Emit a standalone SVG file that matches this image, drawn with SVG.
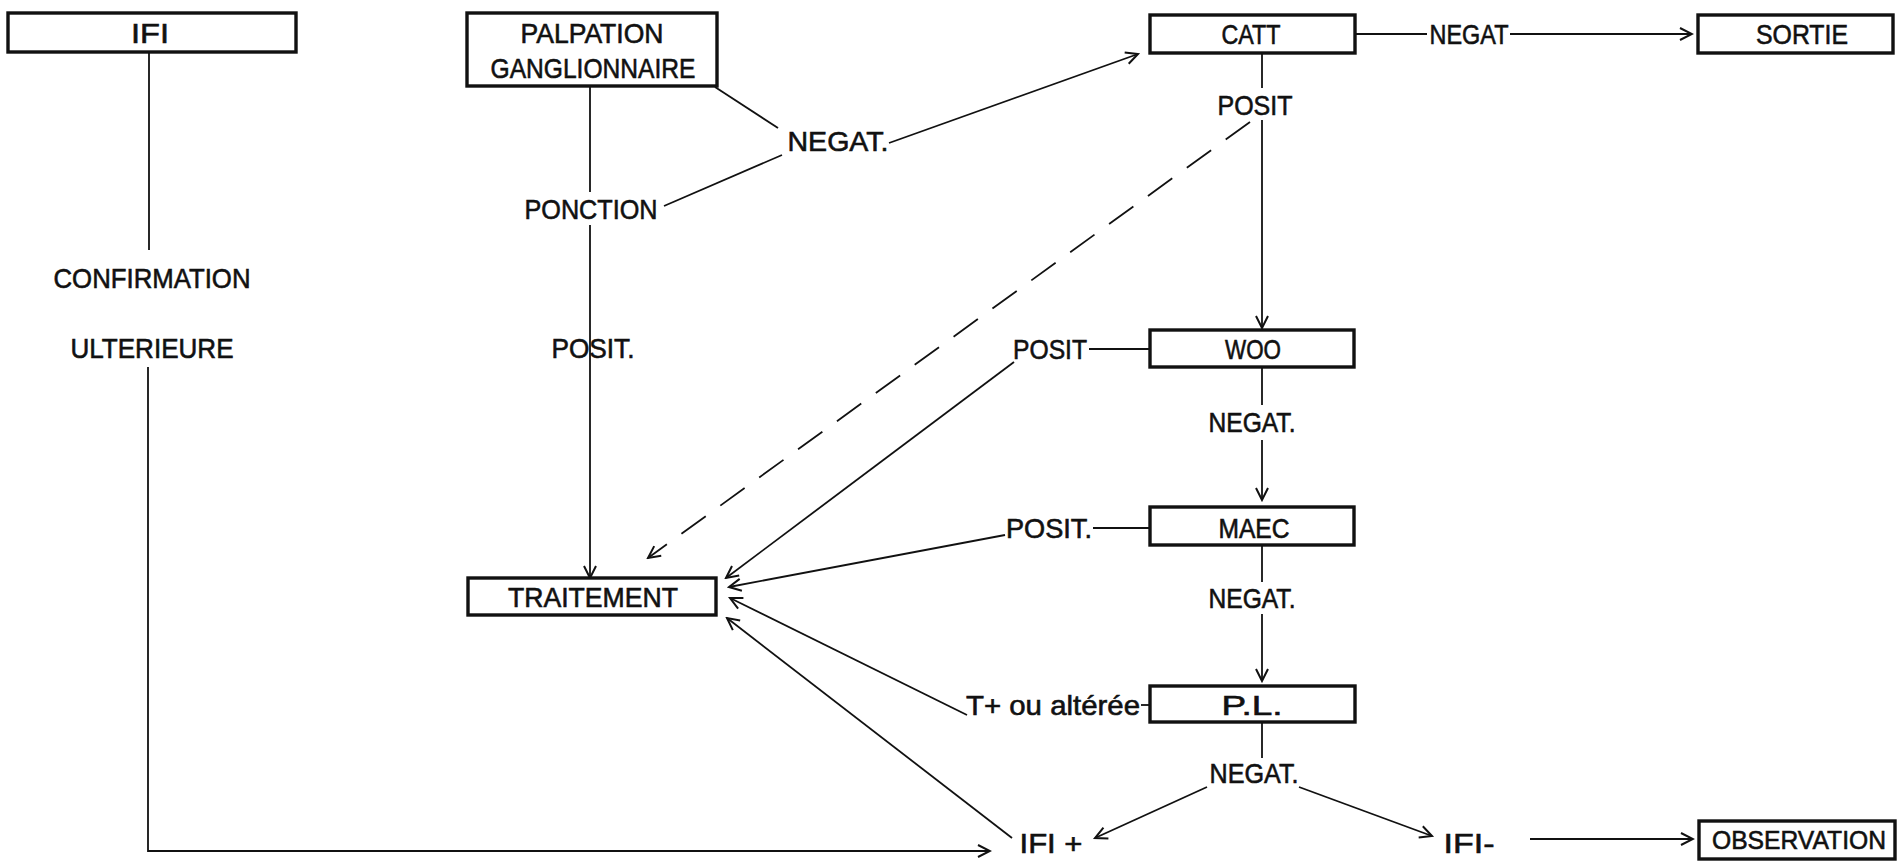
<svg xmlns="http://www.w3.org/2000/svg" width="1901" height="861" viewBox="0 0 1901 861">
<style>
.bg{fill:#fff}
.box{fill:#fff;stroke:#111;stroke-width:3.4}
.t{font-family:"Liberation Sans",Arial,Helvetica,sans-serif;font-size:28px;fill:#111;stroke:#111;stroke-width:0.6;text-anchor:middle}
.c{fill:none;stroke:#111;stroke-width:1.8}
.a{marker-end:url(#arr)}
.d{stroke-dasharray:30 18}
</style>
<defs>
<marker id="arr" markerUnits="userSpaceOnUse" markerWidth="16" markerHeight="16" viewBox="0 0 16 16" refX="14" refY="8" orient="auto">
<path d="M2,2 L14,8 L2,14" fill="none" stroke="#111" stroke-width="2"/>
</marker>
</defs>
<rect class="bg" x="0" y="0" width="1901" height="861"/>

<g id="connectors">
<line class="c" x1="149" y1="52" x2="149" y2="250"/>
<polyline class="c a" points="148,367 148,851 990,851"/>
<line class="c" x1="590" y1="86" x2="590" y2="192"/>
<line class="c" x1="590" y1="225" x2="590" y2="578" marker-end="url(#arr)"/>
<line class="c" x1="715" y1="87" x2="778" y2="128"/>
<line class="c" x1="664" y1="206" x2="782" y2="155"/>
<line class="c a" x1="889" y1="143" x2="1138" y2="54"/>
<line class="c" x1="1262" y1="53" x2="1262" y2="88"/>
<line class="c a" x1="1262" y1="120" x2="1262" y2="328"/>
<line class="c a d" x1="1250" y1="122" x2="648" y2="558"/>
<line class="c" x1="1355" y1="34" x2="1427" y2="34"/>
<line class="c a" x1="1510" y1="34" x2="1692" y2="34"/>
<line class="c" x1="1089" y1="349" x2="1150" y2="349"/>
<line class="c a" x1="1014" y1="362" x2="726" y2="578"/>
<line class="c" x1="1262" y1="367" x2="1262" y2="405"/>
<line class="c a" x1="1262" y1="440" x2="1262" y2="500"/>
<line class="c" x1="1093" y1="528" x2="1150" y2="528"/>
<line class="c a" x1="1005" y1="535" x2="729" y2="587" stroke-width="2.4"/>
<line class="c" x1="1262" y1="545" x2="1262" y2="582"/>
<line class="c a" x1="1262" y1="614" x2="1262" y2="681"/>
<line class="c" x1="1141" y1="705" x2="1150" y2="705"/>
<line class="c a" x1="967" y1="715" x2="730" y2="598" stroke-width="2.2"/>
<line class="c" x1="1262" y1="722" x2="1262" y2="758"/>
<line class="c a" x1="1207" y1="787" x2="1095" y2="838"/>
<line class="c a" x1="1299" y1="787" x2="1432" y2="836"/>
<line class="c a" x1="1530" y1="839" x2="1693" y2="839"/>
<line class="c a" x1="1012" y1="838" x2="727" y2="618"/>
</g>

<g id="n-ifi">
<rect class="box" x="8" y="13" width="288" height="39"/>
<text class="t" x="150" y="43" textLength="38" lengthAdjust="spacingAndGlyphs">IFI</text>
</g>
<g id="n-confirmation">
<text class="t" x="152" y="288" textLength="197" lengthAdjust="spacingAndGlyphs">CONFIRMATION</text>
<text class="t" x="152" y="358" textLength="163" lengthAdjust="spacingAndGlyphs">ULTERIEURE</text>
</g>
<g id="n-palpation">
<rect class="box" x="467" y="13" width="250" height="73"/>
<text class="t" x="592" y="43" textLength="143" lengthAdjust="spacingAndGlyphs">PALPATION</text>
<text class="t" x="593" y="78" textLength="205" lengthAdjust="spacingAndGlyphs">GANGLIONNAIRE</text>
</g>
<g id="l-ponction"><text class="t" x="591" y="219" textLength="133" lengthAdjust="spacingAndGlyphs">PONCTION</text></g>
<g id="l-posit1"><text class="t" x="593" y="358" textLength="83" lengthAdjust="spacingAndGlyphs">POSIT.</text></g>
<g id="l-negat1"><text class="t" x="838" y="151" textLength="101" lengthAdjust="spacingAndGlyphs">NEGAT.</text></g>
<g id="n-catt">
<rect class="box" x="1150" y="15" width="205" height="38"/>
<text class="t" x="1251" y="44" textLength="59" lengthAdjust="spacingAndGlyphs">CATT</text>
</g>
<g id="l-negat2"><text class="t" x="1469" y="44" textLength="79" lengthAdjust="spacingAndGlyphs">NEGAT</text></g>
<g id="n-sortie">
<rect class="box" x="1698" y="15" width="195" height="38"/>
<text class="t" x="1802" y="44" textLength="92" lengthAdjust="spacingAndGlyphs">SORTIE</text>
</g>
<g id="l-posit2"><text class="t" x="1255" y="115" textLength="75" lengthAdjust="spacingAndGlyphs">POSIT</text></g>
<g id="n-woo">
<rect class="box" x="1150" y="330" width="204" height="37"/>
<text class="t" x="1253" y="359" textLength="56" lengthAdjust="spacingAndGlyphs">WOO</text>
</g>
<g id="l-posit3"><text class="t" x="1050" y="359" textLength="74" lengthAdjust="spacingAndGlyphs">POSIT</text></g>
<g id="l-negat3"><text class="t" x="1252" y="432" textLength="87" lengthAdjust="spacingAndGlyphs">NEGAT.</text></g>
<g id="n-maec">
<rect class="box" x="1150" y="507" width="204" height="38"/>
<text class="t" x="1254" y="538" textLength="71" lengthAdjust="spacingAndGlyphs">MAEC</text>
</g>
<g id="l-posit4"><text class="t" x="1049" y="538" textLength="86" lengthAdjust="spacingAndGlyphs">POSIT.</text></g>
<g id="l-negat4"><text class="t" x="1252" y="608" textLength="87" lengthAdjust="spacingAndGlyphs">NEGAT.</text></g>
<g id="n-pl">
<rect class="box" x="1150" y="686" width="205" height="36"/>
<text class="t" x="1252" y="715" textLength="61" lengthAdjust="spacingAndGlyphs">P.L.</text>
</g>
<g id="l-tplus"><text class="t" x="1053" y="715" textLength="174" lengthAdjust="spacingAndGlyphs">T+ ou altérée</text></g>
<g id="l-negat5"><text class="t" x="1254" y="783" textLength="89" lengthAdjust="spacingAndGlyphs">NEGAT.</text></g>
<g id="n-traitement">
<rect class="box" x="468" y="578" width="248" height="37"/>
<text class="t" x="593" y="607" textLength="170" lengthAdjust="spacingAndGlyphs">TRAITEMENT</text>
</g>
<g id="n-ifiplus"><text class="t" x="1051" y="853" textLength="63" lengthAdjust="spacingAndGlyphs">IFI +</text></g>
<g id="n-ifiminus"><text class="t" x="1469" y="853" textLength="51" lengthAdjust="spacingAndGlyphs">IFI-</text></g>
<g id="n-observation">
<rect class="box" x="1699" y="821" width="196" height="38"/>
<text class="t" x="1799" y="849" textLength="174" lengthAdjust="spacingAndGlyphs" style="font-size:26px">OBSERVATION</text>
</g>
</svg>
